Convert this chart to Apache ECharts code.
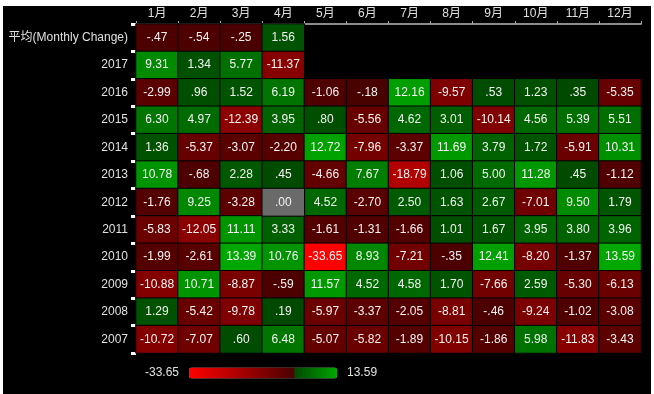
<!DOCTYPE html>
<html><head><meta charset="utf-8">
<script src="https://cdn.jsdelivr.net/npm/echarts@6/dist/echarts.min.js"></script>
<style>
html,body{margin:0;padding:0;background:#fff;}
#bg{position:absolute;left:3px;top:6px;width:648px;height:388px;background:#000;}
#c{position:absolute;left:0;top:0;width:654px;height:394px;}
</style></head>
<body><div id="bg"></div><div id="c"></div>
<script>
const months = ['1月','2月','3月','4月','5月','6月','7月','8月','9月','10月','11月','12月'];
const rows = ['平均(Monthly Change)','2017','2016','2015','2014','2013','2012','2011','2010','2009','2008','2007'];
const avgRow = [-0.47, -0.54, -0.25, 1.56];
const y2017 = [9.31, 1.34, 5.77, -11.37];
const y2016 = [-2.99, 0.96, 1.52, 6.19, -1.06, -0.18, 12.16, -9.57, 0.53, 1.23, 0.35, -5.35];
const y2015 = [6.30, 4.97, -12.39, 3.95, 0.80, -5.56, 4.62, 3.01, -10.14, 4.56, 5.39, 5.51];
const y2014 = [1.36, -5.37, -3.07, -2.20, 12.72, -7.96, -3.37, 11.69, 3.79, 1.72, -5.91, 10.31];
const y2013 = [10.78, -0.68, 2.28, 0.45, -4.66, 7.67, -18.79, 1.06, 5.00, 11.28, 0.45, -1.12];
const y2012 = [-1.76, 9.25, -3.28, 0.00, 4.52, -2.70, 2.50, 1.63, 2.67, -7.01, 9.50, 1.79];
const y2011 = [-5.83, -12.05, 11.11, 3.33, -1.61, -1.31, -1.66, 1.01, 1.67, 3.95, 3.80, 3.96];
const y2010 = [-1.99, -2.61, 13.39, 10.76, -33.65, 8.93, -7.21, -0.35, 12.41, -8.20, -1.37, 13.59];
const y2009 = [-10.88, 10.71, -8.87, -0.59, 11.57, 4.52, 4.58, 1.70, -7.66, 2.59, -5.30, -6.13];
const y2008 = [1.29, -5.42, -9.78, 0.19, -5.97, -3.37, -2.05, -8.81, -0.46, -9.24, -1.02, -3.08];
const y2007 = [-10.72, -7.07, 0.60, 6.48, -5.07, -5.82, -1.89, -10.15, -1.86, 5.98, -11.83, -3.43];
const rowValues = [avgRow, y2017, y2016, y2015, y2014, y2013, y2012, y2011, y2010, y2009, y2008, y2007];
const vMin = -33.65, vMax = 13.59;

const mainData = [], zeroData = [];
rowValues.forEach((vals, r) => {
  vals.forEach((v, m) => {
    (v === 0 ? zeroData : mainData).push([m, r, v]);
  });
});

// two-sided colour scale: dark red -> bright red for negatives, dark green -> bright green for positives
function colorFor(v) {
  if (v < 0) {
    const t = Math.min(1, -v / -vMin);
    const r = Math.round(74 + (255 - 74) * t);
    return 'rgb(' + r + ',0,0)';
  }
  const t = Math.min(1, v / vMax);
  const g = Math.round(72 + (168 - 72) * t);
  return 'rgb(0,' + g + ',0)';
}
const stops = [];
const N = 240;
for (let i = 0; i <= N; i++) stops.push(colorFor(vMin + (vMax - vMin) * i / N));

function fmt(v) {
  return v.toFixed(2).replace(/^(-?)0\./, '$1.');
}
const FONT = '"Liberation Sans", "Noto Sans CJK SC", sans-serif';
const chart = echarts.init(document.getElementById('c'));
chart.setOption({
  backgroundColor: 'transparent',
  animation: false,
  grid: { left: 136, right: 13, top: 24, height: 329 },
  xAxis: {
    type: 'category', position: 'top', data: months,
    axisLine: { show: true, lineStyle: { color: '#8c8c8c', width: 2 } },
    axisTick: { show: true, length: 3, lineStyle: { color: '#aaa' } },
    axisLabel: { color: '#e0e0e0', fontSize: 12, fontFamily: FONT, margin: 4 },
    splitLine: { show: false }
  },
  yAxis: {
    type: 'category', inverse: true, data: rows,
    axisLine: { show: true, lineStyle: { color: '#ddd', width: 1 } },
    axisTick: { show: true, length: 5, lineStyle: { color: '#fff', width: 3 } },
    axisLabel: { color: '#e0e0e0', fontSize: 12, fontFamily: FONT, margin: 8 },
    splitLine: { show: false }
  },
  visualMap: {
    type: 'continuous', seriesIndex: 0, min: vMin, max: vMax,
    orient: 'horizontal', left: 130, top: 352,
    itemWidth: 11, itemHeight: 148,
    text: ['13.59', '-33.65'], textGap: 10,
    textStyle: { color: '#e0e0e0', fontSize: 12, fontFamily: FONT },
    calculable: false,
    inRange: { color: stops }
  },
  series: [{
    type: 'heatmap', data: mainData,
    itemStyle: { borderColor: '#000', borderWidth: 1 },
    label: { show: true, color: '#f2f2f2', fontSize: 12, fontFamily: FONT,
      formatter: p => fmt(p.value[2]) },
    emphasis: { disabled: true }
  }, {
    type: 'heatmap', data: zeroData,
    itemStyle: { color: '#6a6a6a', borderColor: '#000', borderWidth: 1 },
    label: { show: true, color: '#f2f2f2', fontSize: 12, fontFamily: FONT,
      formatter: p => fmt(p.value[2]) },
    emphasis: { disabled: true }
  }]
});
</script></body></html>
